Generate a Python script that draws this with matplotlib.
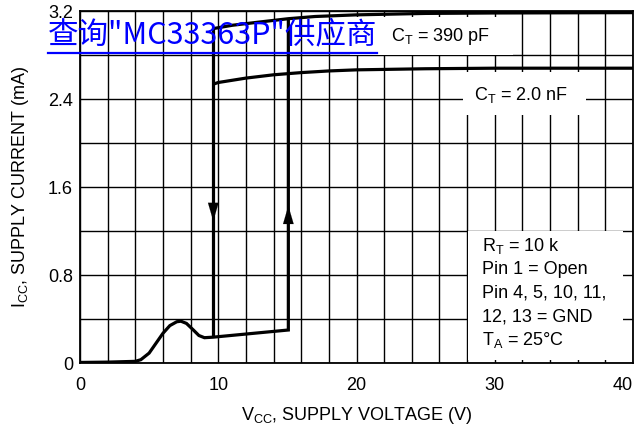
import matplotlib
matplotlib.use("Agg")
import matplotlib.pyplot as plt
from matplotlib import font_manager
from matplotlib.patches import Rectangle
from matplotlib.lines import Line2D

# ---------------- data ----------------
# low-current branch (below UVLO)
v_low = [0, 2, 4, 4.4, 5.0, 5.5, 6.0, 6.5, 7.0, 7.3, 7.7, 8.2, 8.6, 9.0, 9.64, 15.07]
i_low = [0.005, 0.008, 0.015, 0.03, 0.09, 0.18, 0.27, 0.34, 0.375, 0.38, 0.36, 0.30, 0.25, 0.23, 0.235, 0.30]

# operating branch, CT = 390 pF
v_390 = [9.64, 11, 13, 15.07, 17, 20, 25, 30, 40]
i_390 = [3.04, 3.07, 3.10, 3.13, 3.15, 3.165, 3.178, 3.182, 3.185]

# operating branch, CT = 2.0 nF
v_2n = [9.64, 10, 12, 14, 16, 18, 20, 25, 30, 40]
i_2n = [2.535, 2.55, 2.59, 2.62, 2.64, 2.655, 2.665, 2.675, 2.68, 2.68]

v_turn_off = 9.64      # downward transition
v_turn_on = 15.07      # upward transition
arrow_down_tip = 1.29
arrow_up_tip = 1.43

x_ticks = [0, 10, 20, 30, 40]
y_ticks = [0, 0.8, 1.6, 2.4, 3.2]
y_tick_labels = ["0", "0.8", "1.6", "2.4", "3.2"]

label_390 = "C$_\\mathregular{T}$ = 390 pF"
label_2n = "C$_\\mathregular{T}$ = 2.0 nF"
cond_lines = ["R$_\\mathregular{T}$ = 10 k", "Pin 1 = Open", "Pin 4, 5, 10, 11,",
              "12, 13 = GND", "T$_\\mathregular{A}$ = 25°C"]
xlabel = "V$_\\mathregular{CC}$, SUPPLY VOLTAGE (V)"
ylabel = "I$_\\mathregular{CC}$, SUPPLY CURRENT (mA)"
watermark = "查询\"MC33363P\"供应商"

# ---------------- fonts ----------------
avail = {f.name for f in font_manager.fontManager.ttflist}
main_font = "Liberation Sans Narrow" if "Liberation Sans Narrow" in avail else "Liberation Sans"
plt.rcParams["font.family"] = [main_font, "DejaVu Sans"]
plt.rcParams["mathtext.fontset"] = "custom"
plt.rcParams["mathtext.rm"] = main_font
plt.rcParams["mathtext.it"] = main_font

# ---------------- figure ----------------
W, H = 635, 434
fig = plt.figure(figsize=(W / 100, H / 100), dpi=100)
ax = fig.add_axes([80 / W, (H - 363) / H, 553 / W, 352 / H])
ax.set_xlim(0, 40)
ax.set_ylim(0, 3.2)

ax.set_xticks(x_ticks)
ax.set_xticks([x for x in range(0, 41, 2)], minor=True)
ax.set_yticks(y_ticks)
ax.set_yticklabels(y_tick_labels)
ax.set_yticks([i * 0.4 for i in range(9)], minor=True)
ax.tick_params(which="both", length=0, labelsize=13)
ax.tick_params(axis="x", pad=10)
ax.tick_params(axis="y", pad=5)
xt = ax.get_xticklabels()
xt[-1].set_ha("right")
ax.grid(which="both", color="black", linewidth=1.0, zorder=1)
ax.set_axisbelow(True)
for s in ax.spines.values():
    s.set_linewidth(1.3)
    s.set_zorder(6)

ax.set_xlabel(xlabel, fontsize=13, labelpad=8)
ax.set_ylabel(ylabel, fontsize=13, labelpad=12)

# white label boxes
ax.add_patch(Rectangle((19.5, 2.80), 31.3 - 19.5, 3.145 - 2.80, facecolor="white",
                       edgecolor="none", zorder=2))
ax.add_patch(Rectangle((27.7, 2.255), 36.6 - 27.7, 2.645 - 2.255, facecolor="white",
                       edgecolor="none", zorder=2))
ax.add_patch(Rectangle((28.05, 0.03), 39.25 - 28.05, 1.2 - 0.03, facecolor="white",
                       edgecolor="none", zorder=2))

lw = 2.3
kw = dict(color="black", linewidth=lw, solid_capstyle="butt", solid_joinstyle="miter", zorder=4)
# low branch then jump up to 390 pF curve
i_on_top = i_390[v_390.index(v_turn_on)]
ax.plot(v_low + [v_turn_on], i_low + [i_on_top], **kw)
ax.plot(v_390, i_390, **kw)
ax.plot(v_2n, i_2n, **kw)
# turn-off drop
ax.plot([v_turn_off, v_turn_off], [i_390[0], i_low[v_low.index(v_turn_off)]], **kw)

ap = dict(arrowstyle="-|>,head_length=1.3,head_width=0.38", mutation_scale=10,
          color="black", linewidth=0.1, shrinkA=0, shrinkB=0)
ax.annotate("", xy=(v_turn_off, arrow_down_tip), xytext=(v_turn_off, arrow_down_tip + 0.3),
            arrowprops=ap, zorder=5)
ax.annotate("", xy=(v_turn_on, arrow_up_tip), xytext=(v_turn_on, arrow_up_tip - 0.3),
            arrowprops=ap, zorder=5)

ax.text(26.1, 2.97, label_390, fontsize=13, ha="center", va="center", zorder=5)
ax.text(31.9, 2.44, label_2n, fontsize=13, ha="center", va="center", zorder=5)
for k, line in enumerate(cond_lines):
    ax.text(29.1, 1.06 - k * 0.213, line, fontsize=13, ha="left", va="center", zorder=5)

# watermark link text
t = fig.text(48 / W, (H - 43) / H, watermark, color="#0000ff", fontsize=22,
             family=["Noto Sans CJK SC", "DejaVu Sans"], ha="left", va="baseline", zorder=10)
fig.canvas.draw()
bb = t.get_window_extent()
fig.add_artist(Line2D([bb.x0 / W, bb.x1 / W], [(H - 53) / H, (H - 53) / H],
                      color="#0000ff", linewidth=1.6, transform=fig.transFigure, zorder=10))

fig.savefig("out.png", dpi=100)
